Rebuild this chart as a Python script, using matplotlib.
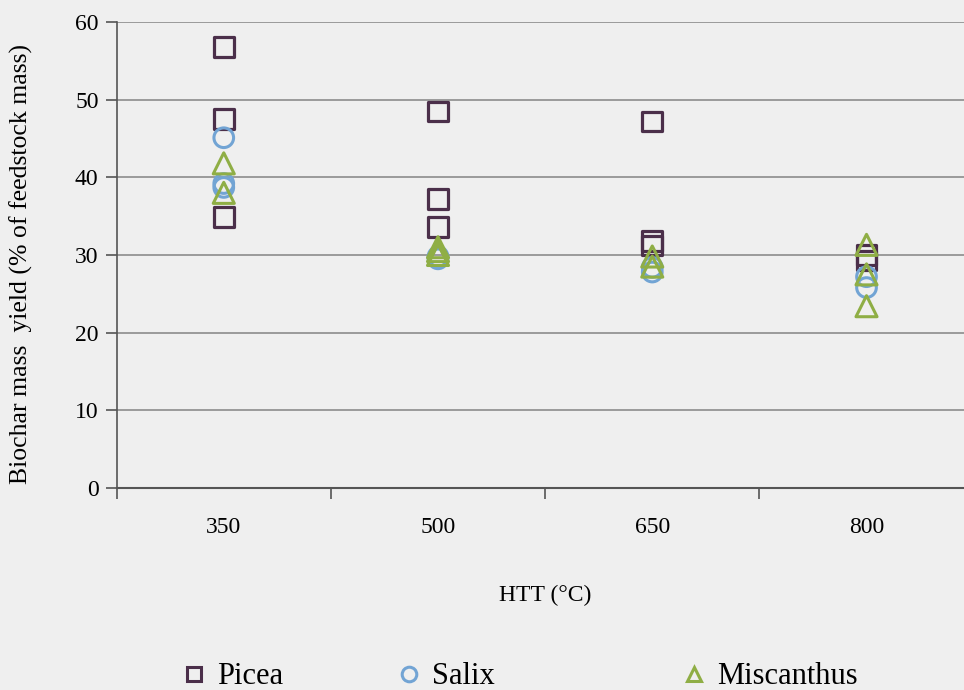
import matplotlib
matplotlib.use("Agg")
import matplotlib.pyplot as plt
from matplotlib.lines import Line2D

# categorias del eje x (HTT en °C)
htt_labels = ["350", "500", "650", "800"]

# rendimientos (% de la masa de materia prima)
picea_htt = [350, 350, 350, 500, 500, 500, 650, 650, 650, 800, 800]
picea_yield = [56.8, 47.5, 34.9, 48.5, 37.2, 33.6, 47.2, 31.8, 31.2, 30.0, 29.3]

salix_htt = [350, 350, 350, 500, 500, 650, 650, 800, 800]
salix_yield = [45.1, 39.2, 38.7, 29.8, 29.5, 28.4, 27.8, 27.2, 25.8]

miscanthus_htt = [350, 350, 500, 500, 500, 650, 650, 800, 800, 800]
miscanthus_yield = [41.8, 38.0, 31.0, 30.5, 30.0, 29.8, 28.5, 31.3, 27.5, 23.4]

col_picea = "#4b2f4a"
col_salix = "#72a4d4"
col_misc = "#8fae45"

plt.rcParams["font.family"] = ["Liberation Serif", "DejaVu Serif"]

fig = plt.figure(figsize=(9.64, 6.9), dpi=100)
fig.patch.set_facecolor("#efefef")
ax = fig.add_axes([0.121, 0.293, 0.889, 0.675])
ax.set_facecolor("#efefef")

def pos(vals):
    return [htt_labels.index(str(v)) for v in vals]

ax.scatter(pos(picea_htt), picea_yield, marker="s", s=200, facecolors="none",
           edgecolors=col_picea, linewidths=2.3, zorder=3)
ax.scatter(pos(salix_htt), salix_yield, marker="o", s=200, facecolors="none",
           edgecolors=col_salix, linewidths=2.2, zorder=4)
ax.scatter(pos(miscanthus_htt), miscanthus_yield, marker="^", s=230, facecolors="none",
           edgecolors=col_misc, linewidths=2.2, zorder=5)

ax.set_xlim(-0.5, 3.5)
ax.set_ylim(0, 60)
ax.set_yticks(range(0, 61, 10))
ax.yaxis.grid(True, color="#8c8c8c", linewidth=1.2)
ax.set_axisbelow(True)

ax.set_xticks(range(len(htt_labels)))
ax.set_xticklabels(htt_labels, fontsize=17)
ax.tick_params(axis="x", length=0, pad=21)
ax.set_xticks([-0.5, 0.5, 1.5, 2.5], minor=True)
ax.tick_params(axis="x", which="minor", length=8, width=1.2, color="#555555")
ax.tick_params(axis="y", length=8, width=1.2, color="#555555", labelsize=17, pad=5)

for s in ["top", "right"]:
    ax.spines[s].set_visible(False)
ax.spines["left"].set_color("#555555")
ax.spines["bottom"].set_color("#555555")
ax.spines["left"].set_linewidth(1.2)
ax.spines["bottom"].set_linewidth(1.5)

ax.set_xlabel("HTT (°C)", fontsize=17, labelpad=34)
ax.set_ylabel("Biochar mass  yield (% of feedstock mass)", fontsize=18.5, labelpad=28)
ax.yaxis.set_label_coords(-0.098, 0.48)

# leyenda: una entrada por especie, separadas como en el original
entries = [
    ("s", col_picea, "Picea", 0.187),
    ("o", col_salix, "Salix", 0.410),
    ("^", col_misc, "Miscanthus", 0.706),
]
for mk, col, name, xpos in entries:
    h = Line2D([], [], marker=mk, ls="none", ms=10.5, mfc="none", mec=col, mew=2.2)
    fig.legend([h], [name], loc="center left", bbox_to_anchor=(xpos, 0.019),
               frameon=False, fontsize=22, handletextpad=0.3, handlelength=0.9,
               borderpad=0, borderaxespad=0)

fig.savefig("out.png", dpi=100, facecolor=fig.get_facecolor())
